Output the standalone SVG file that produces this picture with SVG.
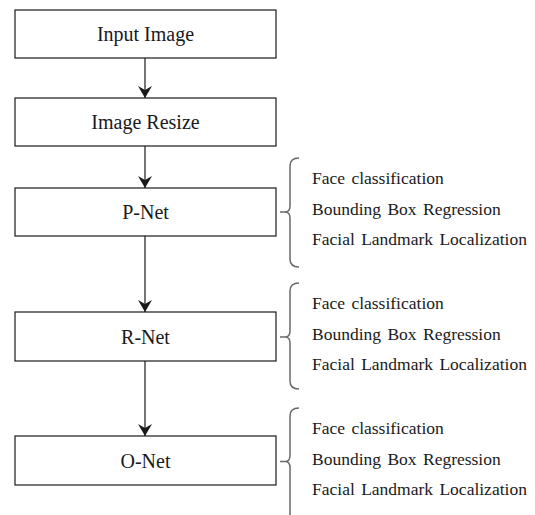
<svg xmlns="http://www.w3.org/2000/svg" width="535" height="515" viewBox="0 0 535 515">
<style>
.box{fill:#fff;stroke:#1a1a1a;stroke-width:1.2}
.lbl{font-family:'Times New Roman','Liberation Serif','DejaVu Serif',serif;font-size:20px;fill:#1a1a1a;text-anchor:middle}
.side{font-family:'Times New Roman','Liberation Serif','DejaVu Serif',serif;font-size:17.5px;fill:#1a1a1a;word-spacing:2px}
.conn{stroke:#1a1a1a;stroke-width:1.2;fill:none}
.brace{stroke:#6a6a6a;stroke-width:1.5;fill:none}
</style>
<defs>
<marker id="arr" viewBox="0 0 12 14" refX="12" refY="7" markerWidth="12" markerHeight="14" markerUnits="userSpaceOnUse" orient="auto">
<path d="M0,0 L12,7 L0,14 L4,7 Z" fill="#1a1a1a"/>
</marker>
</defs>
<rect width="535" height="515" fill="#fff"/>
<g id="connectors">
<line class="conn" x1="145" y1="58" x2="145" y2="98" marker-end="url(#arr)"/>
<line class="conn" x1="145" y1="146" x2="145" y2="188" marker-end="url(#arr)"/>
<line class="conn" x1="145" y1="236" x2="145" y2="312" marker-end="url(#arr)"/>
<line class="conn" x1="145" y1="361" x2="145" y2="436" marker-end="url(#arr)"/>
</g>
<g id="input-image">
<rect class="box" x="15" y="10" width="261" height="48"/>
<text class="lbl" x="145.5" y="41">Input Image</text>
</g>
<g id="image-resize">
<rect class="box" x="15" y="98" width="261" height="48"/>
<text class="lbl" x="145.5" y="129">Image Resize</text>
</g>
<g id="p-net">
<rect class="box" x="15" y="188" width="261" height="48"/>
<text class="lbl" x="145.5" y="219">P-Net</text>
</g>
<g id="r-net">
<rect class="box" x="15" y="312" width="261" height="49"/>
<text class="lbl" x="145.5" y="343.5">R-Net</text>
</g>
<g id="o-net">
<rect class="box" x="15" y="436" width="261" height="49"/>
<text class="lbl" x="145.5" y="467.5">O-Net</text>
</g>
<g id="p-net-outputs">
<path class="brace" d="M280,212 H286 M299,158 Q290,158 290,166 L290,206 Q290,212 285,212 Q290,212 290,218 L290,259 Q290,267 299,267"/>
<text class="side" x="312" y="184">Face classification</text>
<text class="side" x="312" y="215">Bounding Box Regression</text>
<text class="side" x="312" y="245">Facial Landmark Localization</text>
</g>
<g id="r-net-outputs">
<path class="brace" d="M280,337 H286 M299,283 Q290,283 290,291 L290,331 Q290,337 285,337 Q290,337 290,343 L290,381 Q290,389 299,389"/>
<text class="side" x="312" y="309">Face classification</text>
<text class="side" x="312" y="340">Bounding Box Regression</text>
<text class="side" x="312" y="370">Facial Landmark Localization</text>
</g>
<g id="o-net-outputs">
<path class="brace" d="M280,461.5 H286 M299,408 Q290,408 290,416 L290,455.5 Q290,461.5 285,461.5 Q290,461.5 290,467.5 L290,515"/>
<text class="side" x="312" y="433.5">Face classification</text>
<text class="side" x="312" y="465">Bounding Box Regression</text>
<text class="side" x="312" y="495">Facial Landmark Localization</text>
</g>
</svg>
